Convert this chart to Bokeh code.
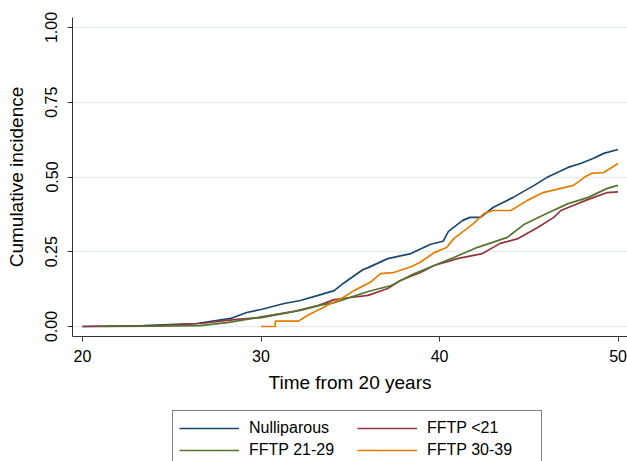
from bokeh.plotting import figure
from bokeh.layouts import column
from bokeh.models import Range1d, Legend, LegendItem, FixedTicker
from bokeh.embed import file_html
from bokeh.resources import INLINE

# ---- data ----
null_t = [20, 23.4, 26.4, 28.3, 29.2, 30.0, 31.3, 32.2, 33.2, 34.1, 34.6, 35.7, 36.0, 37.1,
          38.4, 39.5, 40.2, 40.5, 41.3, 41.7, 42.3, 43.0, 44.1, 45.3, 46.0, 47.2, 47.9,
          48.6, 49.2, 50.0]
null_v = [0, 0.003, 0.01, 0.027, 0.047, 0.057, 0.077, 0.087, 0.104, 0.12, 0.144, 0.19, 0.197,
          0.227, 0.244, 0.275, 0.285, 0.318, 0.355, 0.365, 0.365, 0.398, 0.431, 0.472, 0.498,
          0.532, 0.545, 0.562, 0.579, 0.592]

lt21_t = [20, 24.0, 26.6, 28.5, 30.0, 31.8, 33.2, 34.1, 35.0, 36.0, 37.1, 37.8, 38.9, 39.7,
          41.0, 42.4, 43.4, 44.4, 45.5, 46.4, 46.8, 47.9, 48.6, 49.4, 50.0]
lt21_v = [0, 0.002, 0.01, 0.023, 0.03, 0.05, 0.07, 0.09, 0.097, 0.104, 0.127, 0.154, 0.18,
          0.204, 0.227, 0.244, 0.278, 0.294, 0.331, 0.365, 0.388, 0.415, 0.431, 0.448, 0.45]

a2129_t = [21, 24.0, 26.6, 28.1, 30.0, 32.2, 33.2, 34.1, 36.0, 37.3, 38.5, 39.7, 40.8, 42.1,
           43.8, 44.7, 46.0, 47.2, 48.3, 49.4, 50.0]
a2129_v = [0, 0.001, 0.003, 0.013, 0.032, 0.054, 0.07, 0.08, 0.117, 0.137, 0.175, 0.204,
           0.231, 0.264, 0.298, 0.34, 0.378, 0.411, 0.431, 0.462, 0.472]

a3039_t = [30.0, 30.8, 30.8, 32.1, 32.6, 33.7, 34.6, 35.2, 36.1, 36.7, 37.4, 38.4, 38.9, 39.7,
           40.4, 40.8, 41.9, 42.5, 43.0, 44.0, 44.9, 45.8, 47.5, 48.1, 48.5, 49.2, 50.0]
a3039_v = [0, 0, 0.018, 0.018, 0.037, 0.07, 0.097, 0.12, 0.147, 0.177, 0.18, 0.2, 0.214,
           0.247, 0.264, 0.294, 0.344, 0.378, 0.388, 0.388, 0.421, 0.448, 0.472, 0.498,
           0.512, 0.515, 0.545]

series_names = ["Nulliparous", "FFTP <21", "FFTP 21-29", "FFTP 30-39"]
x_ticks = [20, 30, 40, 50]
y_ticks = [0, 0.25, 0.5, 0.75, 1.0]
y_tick_labels = {0: "0.00", 0.25: "0.25", 0.5: "0.50", 0.75: "0.75", 1.0: "1.00"}

colors = ["#1a476f", "#90353b", "#55752f", "#e37e00"]
FONT = "Liberation Sans"

# ---------------- main plot ----------------
p = figure(frame_width=555, frame_height=319, output_backend="svg", toolbar_location=None,
           x_range=Range1d(19.44, 50.53), y_range=Range1d(-0.0334, 1.0334),
           min_border_left=72, min_border_right=0, min_border_top=17, min_border_bottom=74)
p.outline_line_color = None
p.background_fill_color = "white"

p.xgrid.grid_line_color = None
p.ygrid.grid_line_color = "#e6edf0"
p.ygrid.grid_line_width = 1.5
p.ygrid.ticker = FixedTicker(ticks=y_ticks)

for ax in (p.xaxis[0], p.yaxis[0]):
    ax.axis_line_color = "#333333"
    ax.major_tick_line_color = "#333333"
    ax.major_tick_out = 5
    ax.major_tick_in = 0
    ax.minor_tick_line_color = None
    ax.major_label_text_font = FONT
    ax.major_label_text_font_size = "16px"
    ax.major_label_text_color = "black"
    ax.axis_label_text_font = FONT
    ax.axis_label_text_font_size = "19px"
    ax.axis_label_text_font_style = "normal"
    ax.axis_label_text_color = "black"

p.xaxis.ticker = FixedTicker(ticks=x_ticks)
p.yaxis.ticker = FixedTicker(ticks=y_ticks)
p.yaxis.major_label_overrides = y_tick_labels
p.yaxis.major_label_orientation = "vertical"
p.xaxis.axis_label = "Time from 20 years"
p.yaxis.axis_label = "Cumulative incidence"
p.xaxis.major_label_standoff = 8
p.xaxis.axis_label_standoff = 7
p.yaxis.major_label_standoff = 10
p.yaxis.axis_label_standoff = 16

data = [(null_t, null_v), (lt21_t, lt21_v), (a2129_t, a2129_v), (a3039_t, a3039_v)]
for (t, v), c in zip(data, colors):
    p.line(t, v, line_color=c, line_width=1.7)

# ---------------- legend strip ----------------
lg = figure(width=627, height=51, output_backend="svg", toolbar_location=None,
            x_axis_type=None, y_axis_type=None,
            x_range=Range1d(0, 1), y_range=Range1d(0, 1),
            min_border_left=0, min_border_right=0, min_border_top=0, min_border_bottom=0)
lg.outline_line_color = None
lg.grid.grid_line_color = None
# keys only: their data lie outside the strip's ranges, so only the legend samples show
leg_renderers = [lg.line([5, 6], [5, 6], line_color=c, line_width=1.3) for c in colors]

# filled column by column: col 1 = Nulliparous, FFTP 21-29; col 2 = FFTP <21, FFTP 30-39
order = [0, 2, 1, 3]
items = [LegendItem(label=series_names[i], renderers=[leg_renderers[i]]) for i in order]
legend = Legend(items=items, ncols=2, location=(100, -7),
                label_text_font=FONT, label_text_font_size="16px", label_text_color="black",
                glyph_width=60, glyph_height=22, label_height=22, label_width=108,
                label_standoff=10, spacing=0, padding=6, margin=0,
                border_line_color="black", border_line_width=1,
                background_fill_color="white", background_fill_alpha=1)
lg.add_layout(legend, "center")

layout = column(p, lg, spacing=0)
open("out.html", "w").write(file_html(layout, INLINE))
